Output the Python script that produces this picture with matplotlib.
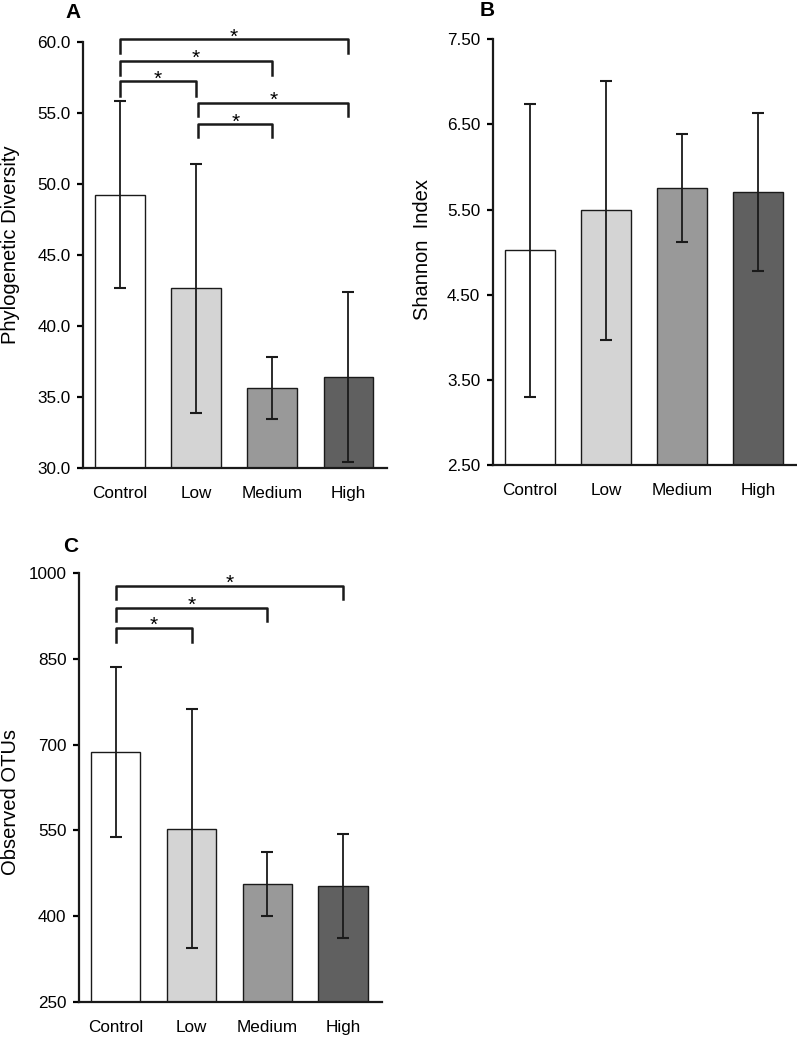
import matplotlib

matplotlib.use("Agg")
import matplotlib.pyplot as plt

plt.rcParams["font.family"] = ["Liberation Sans", "DejaVu Sans"]

groups = ["Control", "Low", "Medium", "High"]
colors = ["#ffffff", "#d4d4d4", "#999999", "#606060"]

# Panel A - phylogenetic diversity
pd_mean = [49.25, 42.65, 35.65, 36.4]
pd_err = [6.6, 8.75, 2.2, 6.0]
pd_ticks = [30.0, 35.0, 40.0, 45.0, 50.0, 55.0, 60.0]
# (left group, right group, bar height, leg bottom)
pd_brackets = [
    (0, 3, 60.19, 59.25),
    (0, 2, 58.66, 57.68),
    (0, 1, 57.23, 56.2),
    (1, 3, 55.73, 54.79),
    (1, 2, 54.2, 53.29),
]

# Panel B - Shannon index
sh_mean = [5.02, 5.49, 5.755, 5.71]
sh_err = [1.72, 1.52, 0.63, 0.93]
sh_ticks = [2.5, 3.5, 4.5, 5.5, 6.5, 7.5]

# Panel C - observed OTUs
otu_mean = [686.5, 553.0, 455.5, 453.0]
otu_err = [149.0, 209.0, 56.0, 91.0]
otu_ticks = [250, 400, 550, 700, 850, 1000]
otu_brackets = [
    (0, 3, 978.3, 954.5),
    (0, 2, 939.8, 917.0),
    (0, 1, 903.7, 880.3),
]

EDGE = "#1a1a1a"
W, H = 797, 1037


def draw_panel(ax, means, errs, ticks, fmt, brackets=None):
    x = list(range(len(groups)))
    ax.bar(x, means, width=0.65, color=colors, edgecolor=EDGE, linewidth=1.0,
           zorder=2)
    ax.errorbar(x, means, yerr=errs, fmt="none", ecolor=EDGE, elinewidth=1.3,
                capsize=4, capthick=1.5, zorder=3)
    ax.set_xlim(-0.487, 3.51)
    ax.set_ylim(ticks[0], ticks[-1])
    ax.set_yticks(ticks)
    ax.set_yticklabels([fmt.format(t) for t in ticks], fontsize=12.3)
    ax.set_xticks(x)
    ax.set_xticklabels(groups, fontsize=12.3)
    ax.tick_params(axis="x", length=0, pad=13)
    ax.tick_params(axis="y", length=4, width=1.6, direction="out", pad=5)
    for side in ("top", "right"):
        ax.spines[side].set_visible(False)
    for side in ("left", "bottom"):
        ax.spines[side].set_linewidth(1.6)
        ax.spines[side].set_color(EDGE)
    if brackets:
        for g1, g2, top, leg in brackets:
            x1 = g1 + (0.03 if g1 > 0 else 0)
            x2 = g2
            ax.plot([x1, x1, x2, x2], [leg, top, top, leg], color=EDGE,
                    linewidth=1.8, clip_on=False, zorder=4)
            ax.annotate("*", ((x1 + x2) / 2, top), xytext=(0, -2.2),
                        textcoords="offset points", ha="center", va="baseline",
                        fontsize=15, annotation_clip=False)


def fig_text(px, py, s, **kw):
    fig.text(px / W, 1 - py / H, s, **kw)


fig = plt.figure(figsize=(W / 100, H / 100), dpi=100)
ax_a = fig.add_axes([0.1041, 0.5487, 0.3815, 0.4108])
ax_b = fig.add_axes([0.6182, 0.5516, 0.3818, 0.4105])
ax_c = fig.add_axes([0.0991, 0.0340, 0.3798, 0.4132])

draw_panel(ax_a, pd_mean, pd_err, pd_ticks, "{:.1f}", pd_brackets)
draw_panel(ax_b, sh_mean, sh_err, sh_ticks, "{:.2f}")
draw_panel(ax_c, otu_mean, otu_err, otu_ticks, "{:.0f}", otu_brackets)

ylab = dict(fontsize=14.5, rotation=90, ha="center", va="center")
fig_text(11, 245, "Phylogenetic Diversity", **ylab)
fig_text(422, 250, "Shannon  Index", **ylab)
fig_text(11, 802, "Observed OTUs", **ylab)

lett = dict(fontsize=15, fontweight="bold", ha="center", va="center")
fig_text(73, 13, "A", **lett)
fig_text(487, 11, "B", **lett)
fig_text(71, 546, "C", **lett)

fig.savefig("out.png", dpi=100)
